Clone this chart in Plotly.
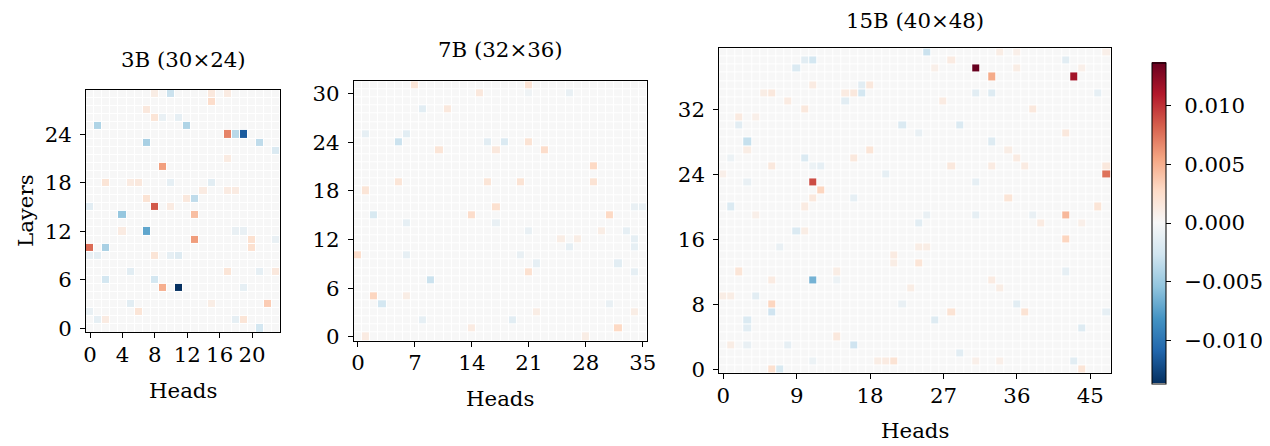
import numpy as np
import plotly.graph_objects as go

# ---------------- data (sparse: layer, head, value); all other cells are 0 ----------------
# 3B (30 layers x 24 heads)
layers_3b = [5, 24, 15, 10, 24, 20, 11, 5, 12, 14, 10, 23, 25, 25, 16, 23, 24, 14, 22, 29,
             28, 3, 0, 6, 6, 16, 26, 27, 18, 18, 18, 18, 18, 7, 1, 1, 2, 3, 7, 9,
             9, 9, 9, 9, 15, 15, 16, 7, 7, 11, 10, 29, 29, 29, 21, 17, 17, 17, 26, 26,
             11, 12, 12, 5, 3, 1, 1, 2, 12]
heads_3b = [11, 19, 8, 0, 17, 9, 13, 9, 7, 4, 2, 7, 1, 12, 13, 21, 18, 13, 23, 10,
            15, 22, 21, 8, 2, 7, 8, 7, 2, 5, 6, 10, 15, 17, 18, 19, 6, 5, 5, 8,
            10, 11, 1, 0, 0, 10, 12, 21, 23, 20, 20, 8, 15, 17, 17, 17, 18, 14, 9, 11,
            23, 18, 19, 19, 15, 1, 2, 0, 4]
values_3b = [-0.0137, -0.0115, 0.0085, 0.0078, 0.0068, 0.0057, 0.0058, 0.0050, -0.0072, -0.0053,
             -0.0045, -0.0045, -0.0042, -0.0042, -0.0035, -0.0035, -0.0038, 0.0042, -0.0020, -0.0030,
             0.0025, 0.0035, -0.0025, -0.0025, -0.0025, 0.0020, 0.0018, 0.0015, 0.0018, 0.0012,
             0.0015, -0.0012, -0.0015, 0.0018, -0.0012, 0.0018, 0.0018, -0.0015, -0.0015, 0.0018,
             -0.0012, -0.0018, -0.0012, -0.0010, -0.0015, 0.0012, 0.0015, -0.0012, 0.0015, 0.0022,
             0.0022, 0.0010, 0.0015, 0.0012, 0.0012, 0.0012, 0.0012, 0.0012, -0.0010, -0.0012,
             -0.0010, -0.0010, -0.0010, -0.0012, 0.0010, -0.0012, 0.0012, -0.0010, 0.0012]

# 7B (32 layers x 36 heads)
layers_7b = [10, 5, 4, 7, 24, 18, 15, 19, 31, 23, 28, 28, 15, 16, 19, 23, 30, 25, 24, 25,
             10, 14, 1, 0, 2, 5, 14, 31, 24, 24, 23, 21, 19, 19, 15, 13, 13, 12, 11, 11,
             12, 9, 9, 8, 8, 10, 2, 1, 4, 16, 16, 30, 30, 13, 12, 0, 3, 3]
heads_7b = [0, 2, 3, 9, 5, 1, 2, 5, 7, 10, 11, 8, 14, 17, 16, 17, 15, 6, 16, 1,
            6, 6, 14, 1, 8, 6, 17, 21, 18, 21, 23, 29, 29, 20, 31, 21, 33, 34, 34, 26,
            27, 22, 32, 34, 21, 20, 19, 32, 31, 34, 35, 26, 21, 30, 25, 28, 34, 22]
values_7b = [0.0025, 0.0030, -0.0025, -0.0030, -0.0030, 0.0018, -0.0022, 0.0018, 0.0018, 0.0018,
             0.0015, -0.0015, 0.0025, 0.0022, 0.0018, 0.0015, 0.0015, -0.0015, -0.0015, -0.0012,
             -0.0012, -0.0012, 0.0012, 0.0012, -0.0012, 0.0010, -0.0010, 0.0020, -0.0020, 0.0020,
             0.0025, 0.0028, 0.0020, 0.0020, 0.0028, -0.0010, -0.0012, -0.0012, -0.0012, -0.0012,
             0.0010, -0.0012, -0.0015, -0.0012, 0.0022, -0.0010, -0.0015, 0.0028, -0.0010, -0.0010,
             -0.0010, -0.0010, -0.0006, 0.0010, 0.0010, 0.0010, 0.0010, 0.0010]

# 15B (40 layers x 48 heads)
layers_15b = [37, 36, 36, 24, 23, 11, 22, 21, 28, 27, 38, 38, 37, 34, 35, 35, 33, 34, 34, 34,
              34, 33, 32, 31, 30, 31, 30, 27, 26, 26, 25, 25, 25, 26, 20, 23, 24, 35, 19, 20,
              21, 24, 39, 19, 38, 38, 39, 39, 39, 37, 37, 37, 34, 34, 34, 33, 32, 30, 29, 29,
              28, 26, 27, 25, 25, 25, 25, 23, 21, 20, 19, 19, 19, 11, 8, 7, 0, 0, 3, 6,
              5, 17, 17, 12, 9, 4, 3, 3, 3, 15, 12, 14, 13, 1, 1, 1, 9, 9, 11, 11,
              8, 1, 16, 13, 18, 7, 7, 8, 6, 5, 2, 1, 0, 12, 11, 10, 15, 15, 18, 18,
              7, 1, 1, 10]
heads_15b = [31, 43, 33, 47, 11, 11, 12, 11, 3, 3, 11, 10, 9, 17, 17, 18, 15, 15, 16, 6,
             5, 8, 10, 2, 2, 4, 22, 18, 10, 16, 6, 12, 11, 1, 1, 3, 20, 11, 4, 10,
             16, 0, 25, 42, 42, 28, 34, 36, 47, 36, 26, 44, 31, 33, 46, 27, 38, 29, 42, 24,
             33, 36, 35, 28, 33, 37, 47, 31, 35, 46, 25, 31, 38, 11, 6, 6, 6, 7, 16, 3,
             3, 9, 10, 2, 4, 14, 1, 3, 8, 7, 14, 21, 21, 20, 21, 19, 0, 1, 6, 14,
             22, 11, 42, 24, 24, 28, 37, 36, 26, 44, 29, 43, 44, 42, 33, 34, 24, 25, 39, 44,
             47, 31, 34, 23]
values_15b = [0.0137, 0.0115, 0.0052, 0.0075, 0.0090, -0.0068, 0.0030, 0.0015, -0.0032, 0.0010,
              -0.0025, -0.0015, -0.0020, -0.0025, -0.0015, 0.0015, -0.0015, 0.0012, 0.0015, 0.0015,
              0.0010, 0.0012, 0.0015, 0.0013, -0.0015, 0.0008, -0.0020, 0.0018, -0.0020, 0.0015,
              0.0015, -0.0012, -0.0008, -0.0008, -0.0020, -0.0010, -0.0012, 0.0012, 0.0008, 0.0012,
              -0.0012, 0.0008, -0.0030, 0.0045, -0.0015, 0.0012, 0.0010, 0.0008, 0.0008, 0.0010,
              0.0008, 0.0008, -0.0015, -0.0018, -0.0012, 0.0012, 0.0015, -0.0020, 0.0015, -0.0010,
              -0.0018, 0.0012, 0.0010, 0.0015, 0.0012, 0.0012, 0.0015, -0.0012, 0.0018, 0.0018,
              -0.0010, -0.0012, -0.0010, -0.0065, 0.0030, -0.0028, 0.0022, -0.0022, -0.0028, -0.0020,
              -0.0015, -0.0020, 0.0010, 0.0018, -0.0015, 0.0015, 0.0010, -0.0010, -0.0012, -0.0010,
              0.0010, 0.0012, 0.0010, 0.0012, 0.0020, 0.0010, 0.0010, 0.0010, 0.0012, -0.0008,
              -0.0010, -0.0008, 0.0030, 0.0018, -0.0015, 0.0020, 0.0020, -0.0015, -0.0018, -0.0018,
              -0.0015, -0.0015, 0.0018, -0.0012, 0.0012, 0.0010, 0.0010, 0.0010, 0.0012, 0.0008,
              -0.0012, 0.0008, 0.0008, 0.0010]

titles = ["3B (30×24)", "7B (32×36)", "15B (40×48)"]
shapes = [(30, 24), (32, 36), (40, 48)]
x_ticks = [[0, 4, 8, 12, 16, 20], [0, 7, 14, 21, 28, 35], [0, 9, 18, 27, 36, 45]]
y_ticks = [[0, 6, 12, 18, 24], [0, 6, 12, 18, 24, 30], [0, 8, 16, 24, 32]]
cb_ticks = [-0.010, -0.005, 0.000, 0.005, 0.010]
cb_text = ["\u00a0\u200a−0.010", "\u00a0\u200a−0.005", "\u00a0\u200a0.000",
           "\u00a0\u200a0.005", "\u00a0\u200a0.010"]
zmax = 0.0137

# ---------------- figure ----------------
# The page keeps its default 8px body margin, so the figure is 8px smaller than the
# 1270x446 window and every screen-pixel target is shifted by that margin.
OFF = 8
W, H = 1270 - OFF, 446 - OFF
FONT = "DejaVu Serif"
FS = 21.3


def px(x):
    return (x - OFF) / W


def py(y):
    return 1 - (y - OFF) / H


rdbu_r = ['#053061', '#2166ac', '#4393c3', '#92c5de', '#d1e5f0', '#f7f7f7',
          '#fddbc7', '#f4a582', '#d6604d', '#b2182b', '#67001f']
colorscale = [[i / (len(rdbu_r) - 1), c] for i, c in enumerate(rdbu_r)]

# target screen-pixel boxes of the three panels (left, top, right, bottom)
boxes = [(86.0, 89.9, 280.4, 332.4), (353.9, 81.3, 646.9, 340.8), (719.2, 48.4, 1110.7, 373.4)]
title_y = [59, 50, 20.5]
xlabel_y = [390, 398, 430]

data_sets = [(layers_3b, heads_3b, values_3b), (layers_7b, heads_7b, values_7b),
             (layers_15b, heads_15b, values_15b)]

fig = go.Figure()
annotations = []
for i, ((nl, nh), (ls, hs, vs)) in enumerate(zip(shapes, data_sets)):
    z = np.zeros((nl, nh))
    z[np.array(ls), np.array(hs)] = np.array(vs)
    sfx = "" if i == 0 else str(i + 1)
    fig.add_trace(go.Heatmap(z=z, x=list(range(nh)), y=list(range(nl)),
                             coloraxis="coloraxis", xgap=1, ygap=1,
                             xaxis="x" + sfx, yaxis="y" + sfx))
    l, t, r, b = boxes[i]
    common = dict(showline=True, mirror=True, linecolor="black", linewidth=1,
                  ticks="outside", ticklen=5, tickwidth=1, tickcolor="black",
                  showgrid=False, zeroline=False, automargin=False,
                  tickfont=dict(family=FONT, size=FS, color="black"))
    fig.update_layout(**{
        "xaxis" + sfx: dict(domain=[px(l), px(r)], range=[-0.5, nh - 0.5],
                            tickvals=x_ticks[i], anchor="y" + sfx,
                            ticklabelstandoff=-2, **common),
        "yaxis" + sfx: dict(domain=[py(b), py(t)], range=[-0.5, nl - 0.5],
                            tickvals=y_ticks[i], anchor="x" + sfx,
                            ticklabelstandoff=4, **common),
    })
    cx = (l + r) / 2
    annotations.append(dict(text=titles[i], x=px(cx), y=py(title_y[i]), xref="paper", yref="paper",
                            xanchor="center", yanchor="middle", showarrow=False,
                            font=dict(family=FONT, size=FS, color="black")))
    annotations.append(dict(text="Heads", x=px(cx), y=py(xlabel_y[i]), xref="paper", yref="paper",
                            xanchor="center", yanchor="middle", showarrow=False,
                            font=dict(family=FONT, size=FS, color="black")))

annotations.append(dict(text="Layers", x=px(25), y=py(211), xref="paper", yref="paper",
                        xanchor="center", yanchor="middle", showarrow=False, textangle=-90,
                        font=dict(family=FONT, size=FS, color="black")))

cb_top, cb_bot = 62.7, 383.3
fig.update_layout(
    width=W, height=H,
    margin=dict(l=0, r=0, t=0, b=0),
    paper_bgcolor="white", plot_bgcolor="white",
    annotations=annotations,
    coloraxis=dict(
        colorscale=colorscale, cmin=-zmax, cmax=zmax,
        colorbar=dict(
            x=px(1152), xanchor="left", xref="paper", xpad=0,
            y=py((cb_top + cb_bot) / 2), yanchor="middle", ypad=0,
            len=(cb_bot - cb_top) / H, lenmode="fraction", thickness=14,
            outlinewidth=1, outlinecolor="black",
            ticks="outside", ticklen=5, tickcolor="black",
            tickvals=cb_ticks, ticktext=cb_text,
            tickfont=dict(family=FONT, size=FS, color="black"),
        ),
    ),
)

fig.write_html("out.html", config={"displayModeBar": False})
